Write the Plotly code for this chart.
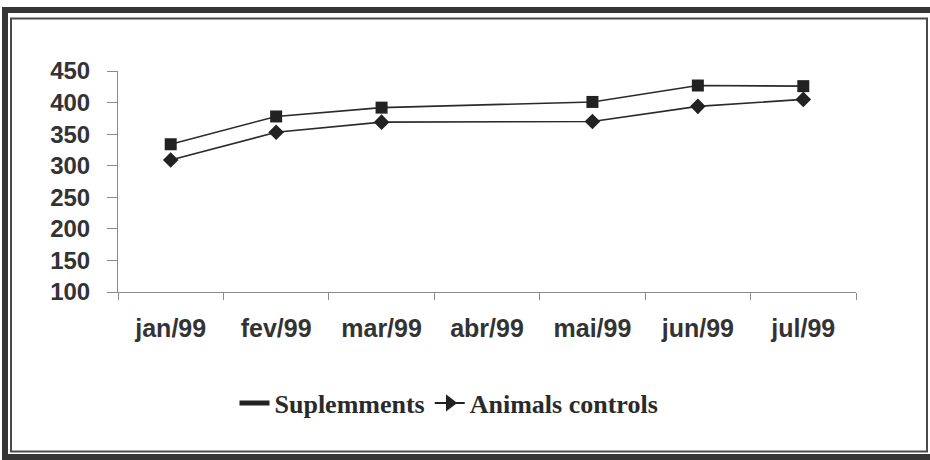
import plotly.graph_objects as go

months = ["jan/99", "fev/99", "mar/99", "abr/99", "mai/99", "jun/99", "jul/99"]
suplemments = [334, 378, 392, None, 401, 427, 426]
animals_controls = [309, 353, 369, None, 370, 394, 405]
y_ticks = [100, 150, 200, 250, 300, 350, 400, 450]

fig = go.Figure()

line_col = "#2a2a2a"
fig.add_trace(go.Scatter(
    x=months, y=suplemments, mode="lines+markers", name="Suplemments",
    connectgaps=True, showlegend=False,
    line=dict(color=line_col, width=1.6),
    marker=dict(symbol="square", size=12, color="#222222"),
))
fig.add_trace(go.Scatter(
    x=months, y=animals_controls, mode="lines+markers", name="Animals controls",
    connectgaps=True, showlegend=False,
    line=dict(color=line_col, width=1.6),
    marker=dict(symbol="diamond", size=12, color="#222222"),
))
# legend-only entries mimicking the reference legend symbols
fig.add_trace(go.Scatter(
    x=[None], y=[None], mode="lines", name="Suplemments",
    line=dict(color="#222222", width=5),
))
fig.add_trace(go.Scatter(
    x=[None], y=[None], mode="lines+markers", name="Animals controls",
    line=dict(color="#222222", width=2),
    marker=dict(symbol="triangle-right", size=15, color="#222222"),
))

W, H = 930, 460
L, R, T, B = 118, 74, 71, 168
pw, ph = W - L - R, H - T - B


def px_x(p):
    return (p - L) / pw


def px_y(p):
    return (H - B - p) / ph


shapes = [
    dict(type="rect", xref="paper", yref="paper",
         x0=px_x(5), x1=px_x(945), y0=px_y(10), y1=px_y(457),
         line=dict(color="#353535", width=6), fillcolor="rgba(0,0,0,0)"),
    dict(type="rect", xref="paper", yref="paper",
         x0=px_x(11), x1=px_x(927), y0=px_y(18.5), y1=px_y(451.5),
         line=dict(color="#4a4a4a", width=2), fillcolor="rgba(0,0,0,0)"),
]

fig.update_layout(
    width=W, height=H,
    margin=dict(l=L, r=R, t=T, b=B),
    paper_bgcolor="white", plot_bgcolor="white",
    shapes=shapes,
    showlegend=True,
    legend=dict(
        orientation="h", x=px_x(449), xanchor="center", y=px_y(403), yanchor="middle",
        font=dict(family="Liberation Serif", size=26, color="#2a2a2a", weight="bold"),
        itemwidth=30, bgcolor="rgba(0,0,0,0)", tracegroupgap=0,
    ),
    xaxis=dict(
        type="category", categoryorder="array", categoryarray=months,
        range=[-0.5, 6.5], tickson="boundaries",
        showline=True, linecolor="#8a8a8a", linewidth=1,
        ticks="outside", ticklen=7, tickcolor="#8a8a8a", tickwidth=1,
        showgrid=False, zeroline=False,
        tickfont=dict(family="Liberation Sans", size=25, color="#333333", weight="bold"),
        ticklabelstandoff=14,
    ),
    yaxis=dict(
        range=[100, 450], tickvals=y_ticks,
        showline=True, linecolor="#8a8a8a", linewidth=1,
        ticks="outside", ticklen=10, tickcolor="#8a8a8a", tickwidth=1,
        showgrid=False, zeroline=False,
        tickfont=dict(family="Liberation Sans", size=24, color="#333333", weight="bold"),
        ticklabelstandoff=12,
    ),
)

fig.write_html("out.html", config={"displayModeBar": False},
               post_script="document.body.style.margin='0';")
